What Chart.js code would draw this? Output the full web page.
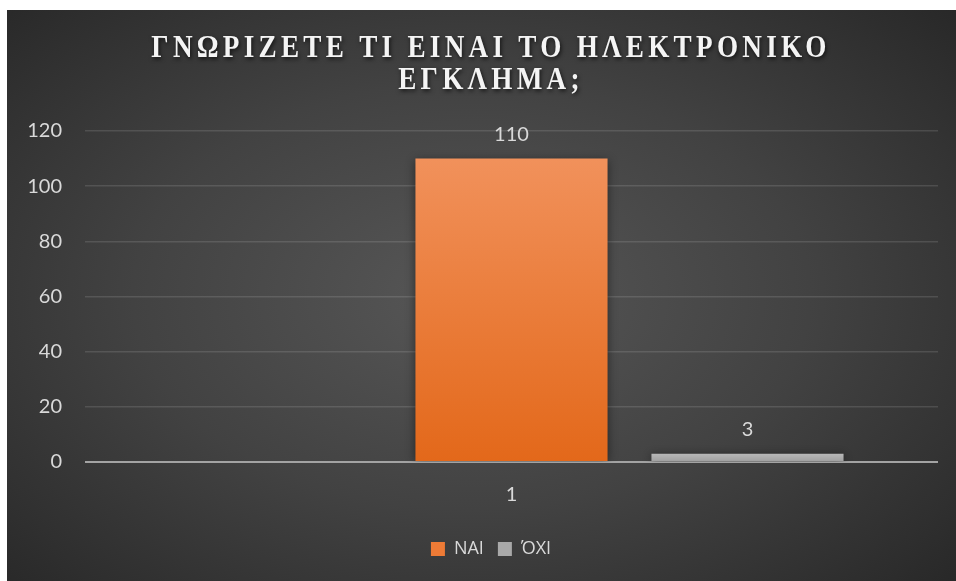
<!DOCTYPE html>
<html>
<head>
<meta charset="utf-8">
<script src="https://cdn.jsdelivr.net/npm/chart.js@4.4.1/dist/chart.umd.min.js"></script>
<style>
  html, body {
    margin: 0;
    padding: 0;
    background: #ffffff;
    overflow: hidden;
    width: 956px;
    height: 581px;
  }
  #frame {
    position: absolute;
    left: 7px;
    top: 10px;
    width: 968px;
    height: 571px;
    background: radial-gradient(ellipse 70% 75% at 48% 50%, #575757 0%, #424242 50%, #272727 100%);
  }
</style>
</head>
<body>
<div id="frame">
  <canvas id="grafico"></canvas>
</div>
<script>
const titulo = ["ΓΝΩΡΙΖΕΤΕ ΤΙ ΕΙΝΑΙ ΤΟ ΗΛΕΚΤΡΟΝΙΚΟ", "ΕΓΚΛΗΜΑ;"];
const categorias = ["1"];
const serieVazia = [null];
const serieNai = [110];
const serieOxi = [3];
const ticksY = [0, 20, 40, 60, 80, 100, 120];

const corTexto = "#d9d9d9";
const fonteBase = "Lato, 'Open Sans', sans-serif";
const fonteLegenda = "'Open Sans', 'Noto Sans', sans-serif";

// o quadro original passa da borda direita, por isso titulo e legenda ficam um pouco a direita
const deslocamentoCentro = 9;

function gradienteBarra(context, topo, base) {
  const chart = context.chart;
  const area = chart.chartArea;
  const escala = chart.scales.y;
  if (!area || !escala) return base;
  const yTopo = escala.getPixelForValue(context.raw);
  if (!isFinite(yTopo) || !isFinite(area.bottom)) return base;
  const g = chart.ctx.createLinearGradient(0, yTopo, 0, area.bottom);
  g.addColorStop(0, topo);
  g.addColorStop(1, base);
  return g;
}

// sombra leve nas barras, como no Excel
const sombraBarras = {
  id: "sombraBarras",
  beforeDatasetsDraw(chart) {
    const ctx = chart.ctx;
    ctx.save();
    ctx.shadowColor = "rgba(0, 0, 0, 0.45)";
    ctx.shadowBlur = 9;
    ctx.shadowOffsetX = 0;
    ctx.shadowOffsetY = 1;
  },
  afterDatasetsDraw(chart) {
    chart.ctx.restore();
  },
};

// rotulos de valor acima das barras
const rotulosValor = {
  id: "rotulosValor",
  afterDatasetsDraw(chart) {
    const ctx = chart.ctx;
    ctx.save();
    ctx.font = "20px " + fonteBase;
    ctx.fillStyle = corTexto;
    ctx.textAlign = "center";
    ctx.textBaseline = "middle";
    chart.data.datasets.forEach((ds, i) => {
      const meta = chart.getDatasetMeta(i);
      meta.data.forEach((el, j) => {
        const v = ds.data[j];
        if (v === null || v === undefined) return;
        ctx.fillText(String(v), el.x, el.y - 24);
      });
    });
    ctx.restore();
  },
};

// titulo condensado com espaco entre letras e sombra; legenda deslocada
const estiloCaixas = {
  id: "estiloCaixas",
  afterLayout(chart) {
    const t = chart.titleBlock;
    if (t && !t._estilizado) {
      const desenhar = t.draw.bind(t);
      t.draw = function () {
        const ctx = this.ctx;
        const cx = (this.left + this.right) / 2 + deslocamentoCentro;
        ctx.save();
        ctx.translate(cx, 0);
        ctx.scale(0.85, 1);
        ctx.translate(-cx + deslocamentoCentro, 0);
        ctx.letterSpacing = "5px";
        ctx.shadowColor = "rgba(0, 0, 0, 0.7)";
        ctx.shadowBlur = 4;
        ctx.shadowOffsetX = 1;
        ctx.shadowOffsetY = 2;
        desenhar();
        ctx.restore();
      };
      t._estilizado = true;
    }
    const l = chart.legend;
    if (l && !l._estilizado) {
      const desenharLegenda = l.draw.bind(l);
      l.draw = function () {
        const ctx = this.ctx;
        ctx.save();
        ctx.translate(deslocamentoCentro, 0);
        desenharLegenda();
        ctx.restore();
      };
      l._estilizado = true;
    }
  },
};

const ctx = document.getElementById("grafico").getContext("2d");

new Chart(ctx, {
  type: "bar",
  data: {
    labels: categorias,
    datasets: [
      {
        label: "",
        data: serieVazia,
        backgroundColor: "rgba(0,0,0,0)",
      },
      {
        label: "ΝΑΙ",
        data: serieNai,
        backgroundColor: (c) => gradienteBarra(c, "#f1915b", "#e3681a"),
      },
      {
        label: "ΌΧΙ",
        data: serieOxi,
        backgroundColor: (c) => gradienteBarra(c, "#b8b8b8", "#9e9e9e"),
      },
    ],
  },
  options: {
    responsive: true,
    maintainAspectRatio: false,
    animation: false,
    categoryPercentage: 0.83,
    barPercentage: 0.814,
    layout: {
      padding: { left: 19, right: 37, top: 0, bottom: 13 },
    },
    plugins: {
      title: {
        display: true,
        text: titulo,
        color: "#f4f4f4",
        font: {
          family: "'Liberation Serif', 'DejaVu Serif', serif",
          size: 32,
          weight: "bold",
          lineHeight: 1.0,
        },
        padding: { top: 23, bottom: 34 },
      },
      legend: {
        display: true,
        position: "bottom",
        labels: {
          color: corTexto,
          font: { family: fonteLegenda, size: 18 },
          boxWidth: 14,
          boxHeight: 14,
          padding: 14,
          filter: (item) => item.text !== "",
          generateLabels(chart) {
            const itens = Chart.defaults.plugins.legend.labels.generateLabels(chart);
            const cores = ["rgba(0,0,0,0)", "#ee7b36", "#a9a9a9"];
            itens.forEach((it) => {
              it.fillStyle = cores[it.datasetIndex];
              it.strokeStyle = cores[it.datasetIndex];
              it.lineWidth = 0;
              it.fontColor = corTexto;
            });
            return itens;
          },
        },
      },
      tooltip: { enabled: false },
    },
    scales: {
      x: {
        grid: { display: false },
        border: { display: false },
        afterFit(scale) {
          scale.height += 6;
        },
        ticks: {
          color: corTexto,
          font: { family: fonteBase, size: 20 },
          padding: 13,
        },
      },
      y: {
        min: 0,
        max: 120,
        afterBuildTicks(scale) {
          scale.ticks = ticksY.map((v) => ({ value: v }));
        },
        afterFit(scale) {
          scale.width = 59;
        },
        border: { display: false },
        grid: {
          drawTicks: false,
          color: (c) => (c.tick && c.tick.value === 0 ? "#a3a3a3" : "rgba(255,255,255,0.12)"),
          lineWidth: (c) => (c.tick && c.tick.value === 0 ? 2 : 1.5),
        },
        ticks: {
          color: corTexto,
          font: { family: fonteBase, size: 20 },
          padding: 23,
        },
      },
    },
  },
  plugins: [sombraBarras, rotulosValor, estiloCaixas],
});
</script>
</body>
</html>
